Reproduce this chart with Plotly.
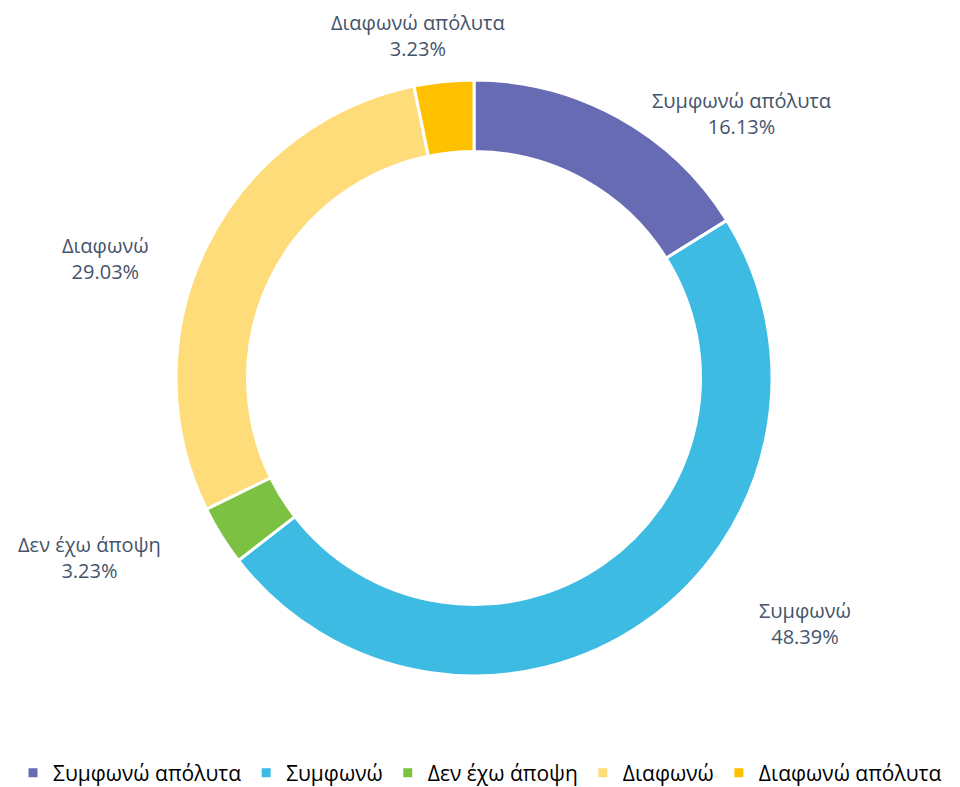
import plotly.graph_objects as go

categories = ["Συμφωνώ απόλυτα", "Συμφωνώ", "Δεν έχω άποψη", "Διαφωνώ", "Διαφωνώ απόλυτα"]
values = [16.13, 48.39, 3.23, 29.03, 3.23]
colors = ["#676BB3", "#3DBBE3", "#7DC142", "#FFDC7A", "#FFC000"]

W, H = 960, 787
OFF = 8  # page body margin
cx, cy, R = 474 - OFF, 378 - OFF, 298

# label anchor centres in pixels (styling only)
label_px = [(741, 113), (805, 623), (89, 557), (105, 258), (418, 35)]

fig = go.Figure(go.Pie(
    labels=categories,
    values=values,
    sort=False,
    direction="clockwise",
    rotation=0,
    hole=0.76,
    marker=dict(colors=colors, line=dict(color="white", width=3)),
    textinfo="none",
    domain=dict(x=[(cx - R) / W, (cx + R) / W], y=[1 - (cy + R) / H, 1 - (cy - R) / H]),
))

for (px, py), lab, v in zip(label_px, categories, values):
    fig.add_annotation(x=(px - OFF) / W, y=1 - (py - OFF) / H, xref="paper", yref="paper",
                       text=f"{lab}<br>{v:.2f}%",
                       showarrow=False, xanchor="center", yanchor="middle",
                       font=dict(size=20, color="#44546A", family="Open Sans"))

fig.update_layout(
    width=W, height=H,
    margin=dict(l=0, r=0, t=0, b=0),
    paper_bgcolor="white",
    font=dict(family="Open Sans", size=20, color="#000000"),
    legend=dict(orientation="h", x=0.5 - OFF / W, xanchor="center",
                y=1 - (773 - OFF) / H, yanchor="middle",
                font=dict(size=21, color="#000000"), itemwidth=30),
    showlegend=True,
)

fig.write_html("out.html")
